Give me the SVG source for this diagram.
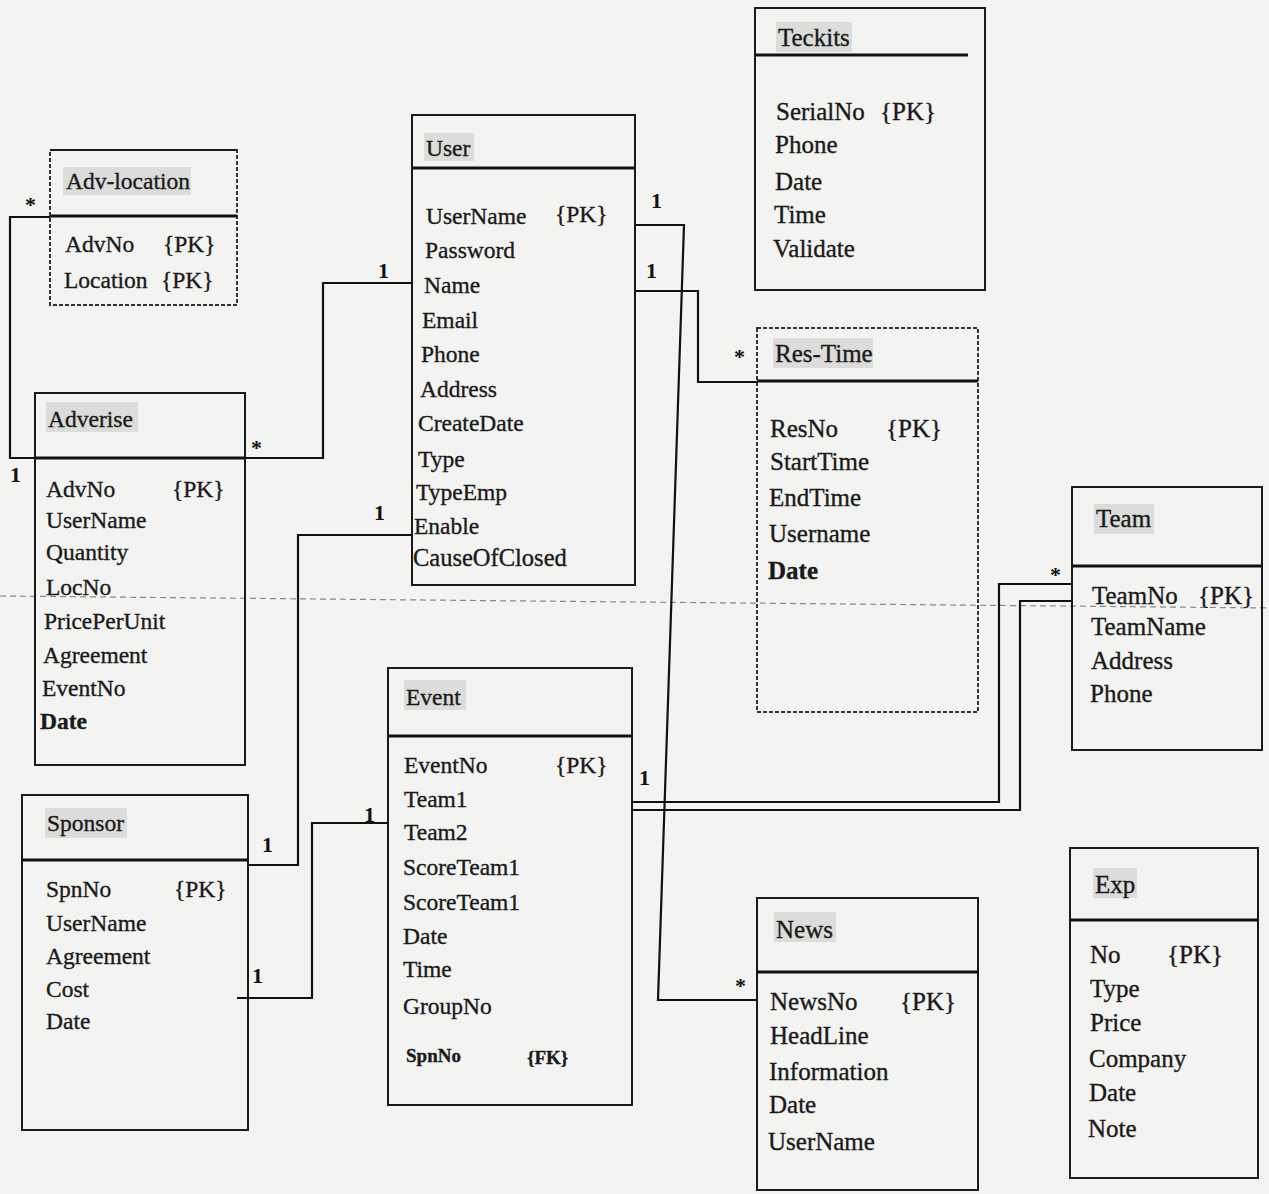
<svg xmlns="http://www.w3.org/2000/svg" width="1269" height="1194" viewBox="0 0 1269 1194">
<style>
  .bg{fill:#f3f3f1}
  .box{fill:none;stroke:#1a1a1a;stroke-width:2}
  .dot{fill:none;stroke:#333;stroke-width:2;stroke-dasharray:4 2}
  .div{stroke:#111;stroke-width:3}
  .hl{fill:#c9c9c7;opacity:0.55}
  .t,.h{font-family:"Liberation Serif","Times New Roman",serif;font-size:23.5px;fill:#1a1a1a;stroke:#1a1a1a;stroke-width:0.35}
  .big .t,.big .h{font-size:25px}
  .b{font-weight:bold}
  .s{font-size:19px;font-weight:bold}
  .conn{fill:none;stroke:#111;stroke-width:2.2}
  .lbl{font-family:"Liberation Serif","Times New Roman",serif;font-size:22px;font-weight:bold;fill:#111}
  .fold{fill:none;stroke:#888;stroke-width:1.2;stroke-dasharray:6 4}
</style>
<rect class="bg" x="0" y="0" width="1269" height="1194"/>

<g id="scan-fold">
  <path class="fold" d="M0,596 L1269,608"/>
</g>

<g id="connectors">
  <path class="conn" d="M50,217 H10 V458 H35"/>
  <path class="conn" d="M245,458 H323 V283 H412"/>
  <path class="conn" d="M635,291 H698 V382 H757"/>
  <path class="conn" d="M635,225 H684 L658,1000 H757"/>
  <path class="conn" d="M412,535 H298 V865 H248"/>
  <path class="conn" d="M237,998 H312 V823 H388"/>
  <path class="conn" d="M632,802 H999 V584 H1072"/>
  <path class="conn" d="M632,810 H1020 V601 H1072"/>
  <text class="lbl" x="25" y="212">*</text>
  <text class="lbl" x="10" y="482">1</text>
  <text class="lbl" x="251" y="455">*</text>
  <text class="lbl" x="378" y="278">1</text>
  <text class="lbl" x="651" y="208">1</text>
  <text class="lbl" x="646" y="278">1</text>
  <text class="lbl" x="734" y="364">*</text>
  <text class="lbl" x="374" y="520">1</text>
  <text class="lbl" x="262" y="852">1</text>
  <text class="lbl" x="252" y="983">1</text>
  <text class="lbl" x="364" y="822">1</text>
  <text class="lbl" x="639" y="785">1</text>
  <text class="lbl" x="1050" y="582">*</text>
  <text class="lbl" x="735" y="993">*</text>
</g>

<g id="adv-location">
  <rect class="dot" x="50" y="150" width="187" height="155"/>
  <line class="box" x1="50" y1="150" x2="237" y2="150"/>
  <line class="div" x1="50" y1="216" x2="237" y2="216"/>
  <rect class="hl" x="63" y="167" width="128" height="28"/>
  <text class="h" x="66" y="189">Adv-location</text>
  <text class="t" x="65" y="252">AdvNo</text><text class="t" x="163" y="252">{PK}</text>
  <text class="t" x="64" y="288">Location</text><text class="t" x="161" y="288">{PK}</text>
</g>

<g id="adverise">
  <rect class="box" x="35" y="393" width="210" height="372"/>
  <line class="div" x1="35" y1="458" x2="245" y2="458"/>
  <rect class="hl" x="46" y="402" width="92" height="30"/>
  <text class="h" x="48" y="427">Adverise</text>
  <text class="t" x="46" y="497">AdvNo</text><text class="t" x="172" y="497">{PK}</text>
  <text class="t" x="46" y="528">UserName</text>
  <text class="t" x="46" y="560">Quantity</text>
  <text class="t" x="46" y="595">LocNo</text>
  <text class="t" x="44" y="629">PricePerUnit</text>
  <text class="t" x="43" y="663">Agreement</text>
  <text class="t" x="42" y="696">EventNo</text>
  <text class="t b" x="40" y="729">Date</text>
</g>

<g id="user">
  <rect class="box" x="412" y="115" width="223" height="470"/>
  <line class="div" x1="412" y1="168" x2="635" y2="168"/>
  <rect class="hl" x="424" y="133" width="50" height="28"/>
  <text class="h" x="426" y="156">User</text>
  <text class="t" x="426" y="224">UserName</text><text class="t" x="555" y="222">{PK}</text>
  <text class="t" x="425" y="258">Password</text>
  <text class="t" x="424" y="293">Name</text>
  <text class="t" x="422" y="328">Email</text>
  <text class="t" x="421" y="362">Phone</text>
  <text class="t" x="420" y="397">Address</text>
  <text class="t" x="418" y="431">CreateDate</text>
  <text class="t" x="418" y="467">Type</text>
  <text class="t" x="416" y="500">TypeEmp</text>
  <text class="t" x="414" y="534">Enable</text>
  <text class="t" x="413" y="566" style="font-size:24.5px">CauseOfClosed</text>
</g>

<g id="teckits" class="big">
  <rect class="box" x="755" y="8" width="230" height="282"/>
  <line class="div" x1="755" y1="55" x2="968" y2="55"/>
  <rect class="hl" x="776" y="22" width="76" height="30"/>
  <text class="h" x="778" y="46">Teckits</text>
  <text class="t" x="776" y="120">SerialNo</text><text class="t" x="880" y="120">{PK}</text>
  <text class="t" x="775" y="153">Phone</text>
  <text class="t" x="775" y="190">Date</text>
  <text class="t" x="774" y="223">Time</text>
  <text class="t" x="773" y="257">Validate</text>
</g>

<g id="res-time" class="big">
  <rect class="dot" x="757" y="328" width="221" height="384"/>
  <line class="div" x1="757" y1="381" x2="978" y2="381"/>
  <rect class="hl" x="773" y="338" width="100" height="30"/>
  <text class="h" x="775" y="362">Res-Time</text>
  <text class="t" x="770" y="437">ResNo</text><text class="t" x="886" y="437">{PK}</text>
  <text class="t" x="770" y="470">StartTime</text>
  <text class="t" x="769" y="506">EndTime</text>
  <text class="t" x="769" y="542">Username</text>
  <text class="t b" x="768" y="579">Date</text>
</g>

<g id="team" class="big">
  <rect class="box" x="1072" y="487" width="190" height="263"/>
  <line class="div" x1="1072" y1="566" x2="1262" y2="566"/>
  <rect class="hl" x="1094" y="504" width="60" height="30"/>
  <text class="h" x="1096" y="527">Team</text>
  <text class="t" x="1092" y="604">TeamNo</text><text class="t" x="1198" y="604">{PK}</text>
  <text class="t" x="1091" y="635">TeamName</text>
  <text class="t" x="1091" y="669">Address</text>
  <text class="t" x="1090" y="702">Phone</text>
</g>

<g id="event">
  <rect class="box" x="388" y="668" width="244" height="437"/>
  <line class="div" x1="388" y1="736" x2="632" y2="736"/>
  <rect class="hl" x="404" y="680" width="62" height="30"/>
  <text class="h" x="406" y="705">Event</text>
  <text class="t" x="404" y="773">EventNo</text><text class="t" x="555" y="773">{PK}</text>
  <text class="t" x="404" y="807">Team1</text>
  <text class="t" x="404" y="840">Team2</text>
  <text class="t" x="403" y="875">ScoreTeam1</text>
  <text class="t" x="403" y="910">ScoreTeam1</text>
  <text class="t" x="403" y="944">Date</text>
  <text class="t" x="403" y="977">Time</text>
  <text class="t" x="403" y="1014">GroupNo</text>
  <text class="t s" x="406" y="1062">SpnNo</text><text class="t s" x="527" y="1064">{FK}</text>
</g>

<g id="sponsor">
  <rect class="box" x="22" y="795" width="226" height="335"/>
  <line class="div" x1="22" y1="860" x2="248" y2="860"/>
  <rect class="hl" x="45" y="808" width="82" height="30"/>
  <text class="h" x="47" y="831">Sponsor</text>
  <text class="t" x="46" y="897">SpnNo</text><text class="t" x="174" y="897">{PK}</text>
  <text class="t" x="46" y="931">UserName</text>
  <text class="t" x="46" y="964">Agreement</text>
  <text class="t" x="46" y="997">Cost</text>
  <text class="t" x="46" y="1029">Date</text>
</g>

<g id="news" class="big">
  <rect class="box" x="757" y="898" width="221" height="292"/>
  <line class="div" x1="757" y1="972" x2="978" y2="972"/>
  <rect class="hl" x="774" y="912" width="62" height="30"/>
  <text class="h" x="776" y="938">News</text>
  <text class="t" x="770" y="1010">NewsNo</text><text class="t" x="900" y="1010">{PK}</text>
  <text class="t" x="770" y="1044">HeadLine</text>
  <text class="t" x="769" y="1080">Information</text>
  <text class="t" x="769" y="1113">Date</text>
  <text class="t" x="768" y="1150">UserName</text>
</g>

<g id="exp" class="big">
  <rect class="box" x="1070" y="848" width="188" height="330"/>
  <line class="div" x1="1070" y1="920" x2="1258" y2="920"/>
  <rect class="hl" x="1093" y="868" width="44" height="30"/>
  <text class="h" x="1095" y="893">Exp</text>
  <text class="t" x="1090" y="963">No</text><text class="t" x="1167" y="963">{PK}</text>
  <text class="t" x="1090" y="997">Type</text>
  <text class="t" x="1090" y="1031">Price</text>
  <text class="t" x="1089" y="1067">Company</text>
  <text class="t" x="1089" y="1101">Date</text>
  <text class="t" x="1088" y="1137">Note</text>
</g>
</svg>
